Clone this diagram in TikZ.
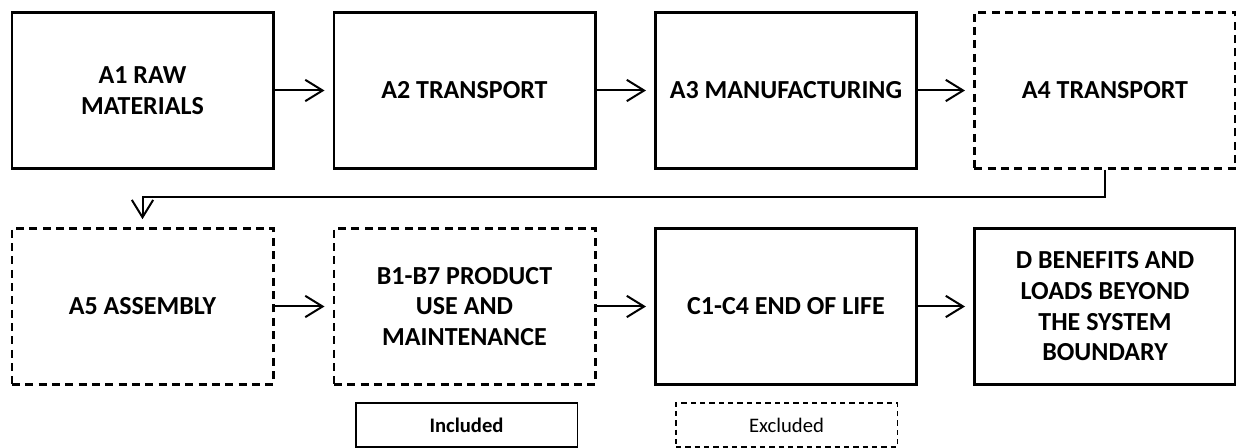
\documentclass[tikz,border=0pt]{standalone}
\usepackage{fontspec}
\setmainfont{Carlito}
\usetikzlibrary{arrows.meta}
\usetikzlibrary{positioning}

\tikzset{
  stage/.style={rectangle,draw=black,line width=2pt,minimum width=196pt,minimum height=117pt,align=center,font=\bfseries\fontsize{19.5}{23}\selectfont},
  outside/.style={stage,dash pattern=on 6pt off 4pt},
  flow/.style={-{Straight Barb[length=13pt,width=16pt]},line width=1.5pt,shorten >=6pt},
  keybox/.style={rectangle,draw=black,line width=1pt,minimum width=166pt,minimum height=33pt,font=\fontsize{15.5}{18}\selectfont}
}

\begin{document}
\begin{tikzpicture}[x=0.75pt,y=-0.75pt]
\useasboundingbox (0,0) rectangle (1236,448);
% first row
\node at (142.5,90.5)[stage](a1){A1 RAW\\MATERIALS};
\node at (464.5,90.5)[stage](a2){A2 TRANSPORT};
\node at (786,90.5)[stage](a3){A3 MANUFACTURING};
\node at (1105,90.5)[outside](a4){A4 TRANSPORT};
% second row
\node at (142.5,306.5)[outside](a5){A5 ASSEMBLY};
\node at (464.5,306.5)[outside](b){B1-B7 PRODUCT\\USE AND\\MAINTENANCE};
\node at (786,306.5)[stage](c){C1-C4 END OF LIFE};
\node at (1105,306.5)[stage](d){D BENEFITS AND\\LOADS BEYOND\\THE SYSTEM\\BOUNDARY};
% legend
\node at (466.5,425)[keybox,font=\bfseries\fontsize{15.5}{18}\selectfont](inc){Included};
\node at (786.5,425)[keybox,dash pattern=on 4pt off 3pt](exc){Excluded};
% arrows
\draw[flow] (a1) -- (a2);
\draw[flow] (a2) -- (a3);
\draw[flow] (a3) -- (a4);
\coordinate (turn) at (600,197);
\draw[flow] (a4.south) |- (turn) -| (a5.north);
\draw[flow] (a5) -- (b);
\draw[flow] (b) -- (c);
\draw[flow] (c) -- (d);
\end{tikzpicture}
\end{document}
